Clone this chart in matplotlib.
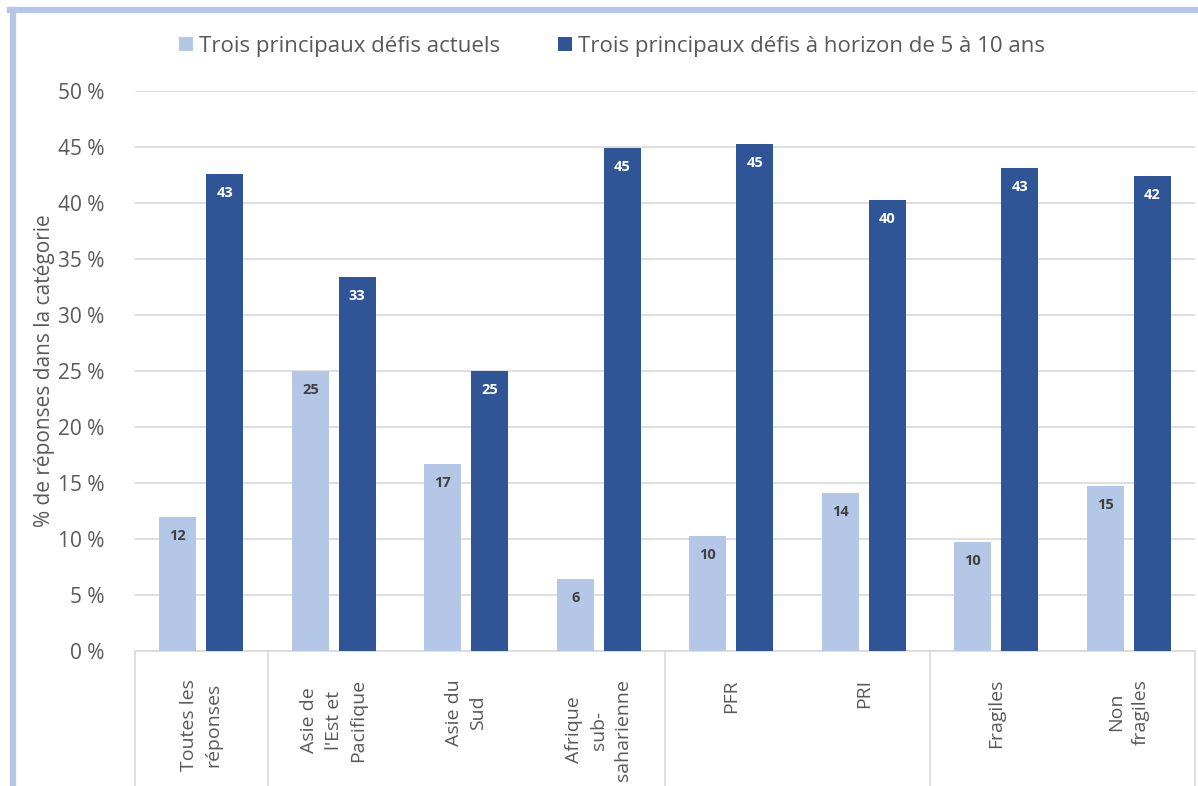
import matplotlib.pyplot as plt
import numpy as np
from matplotlib.lines import Line2D
from matplotlib.ticker import FuncFormatter

plt.rcParams['font.family'] = ['Open Sans', 'DejaVu Sans']

categories = ["Toutes les\nréponses", "Asie de\nl'Est et\nPacifique", "Asie du\nSud",
              "Afrique\nsub-\nsaharienne", "PFR", "PRI", "Fragiles", "Non\nfragiles"]
actuels = [12.0, 25.0, 16.7, 6.4, 10.3, 14.1, 9.7, 14.7]
horizon = [42.6, 33.4, 25.0, 44.9, 45.3, 40.3, 43.1, 42.4]
series_names = ["Trois principaux défis actuels",
                "Trois principaux défis à horizon de 5 à 10 ans"]
# group boundaries on the category axis
group_edges = [-0.5, 0.5, 3.5, 5.5, 7.5]

light = '#b4c7e7'
dark = '#2f5597'
grey_text = '#595959'
grid_col = '#d9d9d9'

fig = plt.figure(figsize=(11.98, 7.86), dpi=100)
ax = fig.add_axes([0.1127, 0.1718, 0.8848, 0.7124])

x = np.arange(len(categories))
w = 0.28
off = 0.177
b1 = ax.bar(x - off, actuels, w, color=light, zorder=3, label=series_names[0])
b2 = ax.bar(x + off, horizon, w, color=dark, zorder=3, label=series_names[1])

for bars, vals, col in [(b1, actuels, '#404040'), (b2, horizon, 'white')]:
    for rect, v in zip(bars, vals):
        ax.text(rect.get_x() + rect.get_width() / 2, v - 1.7, f"{v:.0f}",
                ha='center', va='center', fontsize=10.5, fontweight='bold',
                color=col, zorder=4)

ax.set_xlim(-0.5, 7.5)
ax.set_ylim(0, 50)
ax.set_yticks(np.arange(0, 51, 5))
ax.yaxis.set_major_formatter(FuncFormatter(lambda v, p: f"{v:.0f} %"))
ax.yaxis.grid(True, color=grid_col, linewidth=1.2, zorder=0)
ax.tick_params(axis='y', length=0, labelsize=15, labelcolor=grey_text, pad=22)
ax.tick_params(axis='x', length=0)
ax.set_xticks([])
for s in ['top', 'right', 'left']:
    ax.spines[s].set_visible(False)
ax.spines['bottom'].set_color(grid_col)
ax.spines['bottom'].set_linewidth(1.2)

ax.set_ylabel("% de réponses dans la catégorie", fontsize=15, color=grey_text, labelpad=2)

# category labels, rotated, below the axis
trans = ax.get_xaxis_transform()
for xi, lab in zip(x, categories):
    ax.text(xi, -0.05, lab, rotation=90, ha='center', va='top',
            multialignment='center', fontsize=14, color=grey_text,
            linespacing=1.45, transform=trans, clip_on=False)

# group separators under the axis
for e in group_edges:
    ax.plot([e, e], [0, -0.25], transform=trans, color=grid_col,
            linewidth=1.2, clip_on=False)

leg = fig.legend(handles=[b1, b2], labels=series_names, loc='upper left',
                 bbox_to_anchor=(0.133, 0.98), ncol=2, frameon=False,
                 fontsize=16, handlelength=0.6, handleheight=0.6,
                 handletextpad=0.3, columnspacing=2.6)
for t in leg.get_texts():
    t.set_color(grey_text)

# outer frame edges
fig.add_artist(Line2D([0.0105, 0.0105], [0.0, 0.987], color=light, linewidth=4.5))
fig.add_artist(Line2D([0.0085, 1.0], [0.987, 0.987], color=light, linewidth=4.5))

fig.savefig('out.png', dpi=100)
